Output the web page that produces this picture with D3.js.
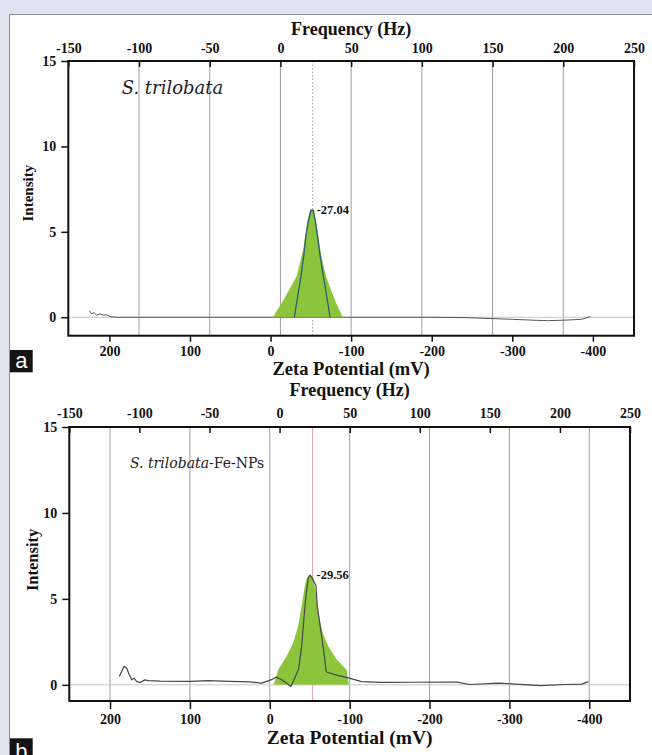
<!DOCTYPE html>
<html>
<head>
<meta charset="utf-8">
<script src="https://cdn.jsdelivr.net/npm/d3@7"></script>
<style>
  html, body { margin: 0; padding: 0; background: #dfe3f0; }
  svg { display: block; }
</style>
</head>
<body>
<svg id="chart" width="652" height="755"></svg>
<script>
// Zeta potential distributions of S. trilobata extract (a) and its Fe-NPs (b).
// Values: [zeta mV, intensity].

const FREQ_TICKS = [-150, -100, -50, 0, 50, 100, 150, 200, 250];
const FREQ_GRID = [-100, -50, 0, 50, 100, 150, 200];
const ZETA_TICKS = [200, 100, 0, -100, -200, -300, -400];
const INTENSITY_TICKS = [0, 5, 10, 15];
const FREQ_DOMAIN = [-150, 250];
const ZETA_DOMAIN = [251, -451];

// panel a
const traceA = [
  [225, 0.38], [222, 0.2], [219, 0.27], [215.8, 0.12], [211.7, 0.2], [207.6, 0.12],
  [203.3, 0.14], [199.2, 0.03], [190, 0], [150, 0], [100, 0], [50, 0], [0, 0],
  [-50, 0], [-100, 0], [-150, 0], [-200, 0], [-240, -0.02], [-270, -0.07],
  [-300, -0.12], [-330, -0.18], [-345, -0.2], [-365, -0.17], [-386, -0.12], [-397, 0.04]
];
const fillA = [
  [-2.7, 0], [-13.9, 0.84], [-23.3, 1.63], [-32.5, 2.42], [-36.6, 3.22], [-40.7, 4.02],
  [-43.2, 4.81], [-45.6, 5.61], [-49.0, 6.3], [-54.0, 6.3], [-56.4, 5.61], [-58.9, 4.81],
  [-61.4, 4.02], [-64.7, 3.22], [-68.8, 2.42], [-74.7, 1.63], [-81.3, 0.84], [-89.6, 0]
];
const peakA = [
  [-29.5, 0], [-33.7, 1.23], [-37.8, 2.42], [-41.2, 3.62], [-44.0, 4.81], [-46.9, 5.61],
  [-50.2, 6.27], [-52.7, 6.27], [-55.6, 5.61], [-58.1, 4.81], [-61.4, 3.62],
  [-65.5, 2.42], [-69.7, 1.23], [-73.8, 0]
];

// panel b
const traceB = [
  [188.4, 0.49], [182.5, 1.08], [179.2, 0.98], [175.9, 0.59], [172.9, 0.29], [170, 0.39],
  [166.6, 0.19], [162.5, 0.14], [156.3, 0.29], [152.1, 0.25], [137.5, 0.22], [100, 0.2],
  [77, 0.24], [50, 0.2], [25, 0.17], [10, 0.1], [-2, 0.3], [-8.3, 0.45], [-15, 0.3],
  [-26.5, -0.1], [-36, 0.9], [-39.9, 2.25], [-42.7, 3.82], [-45.3, 5.19], [-48.1, 6.2],
  [-50, 6.37], [-52, 6.3], [-57.8, 5.78], [-59.4, 4.6], [-63.6, 3.24], [-67.8, 1.86],
  [-70.3, 0.88], [-70.8, 0.75], [-85, 0.55], [-99.4, 0.39], [-115, 0.19], [-140, 0.14],
  [-182.7, 0.15], [-234.7, 0.16], [-250.4, 0.02], [-286.8, 0.1], [-338.7, -0.04],
  [-370, 0.02], [-390.7, 0.04], [-398.7, 0.19]
];
const fillB = [
  [-5, 0], [-10.6, 0.88], [-21.1, 1.66], [-29.4, 2.45], [-35.6, 3.43], [-39.9, 4.6],
  [-44.0, 5.78], [-46.1, 6.18], [-50.2, 6.41], [-54.4, 6.27], [-57.4, 5.39], [-60.6, 4.22],
  [-66.1, 3.04], [-73.2, 2.25], [-83.7, 1.47], [-96.2, 0.88], [-99, 0]
];

const PEAK_LABELS = ['-27.04', '-29.56'];
const PEAK_AT = [-52.3, -53.6];
const PEAK_TOP = [6.3, 6.4];

const GREEN = '#8cc43c';
const SERIF = "'Liberation Serif', 'Times New Roman', serif";

const svg = d3.select('#chart');

// page backdrop: lavender strip, white sheet
svg.append('rect').attr('width', 652).attr('height', 755).attr('fill', '#dfe3f0');
svg.append('rect').attr('x', 9).attr('y', 14).attr('width', 643).attr('height', 741).attr('fill', '#fff');
svg.append('path').attr('d', 'M9.5,755V14.5H652').attr('fill', 'none').attr('stroke', '#8a8f9a');

const panels = [
  {
    key: 'a', left: 68.3, right: 634, top: 61, bottom: 335.7, yMin: -1.08,
    grid: 'freq', trace: traceA, fill: fillA, inner: peakA,
    freqTitleY: 35, freqPad: 8, zTick: 6, zPad: 4, zTitleY: 375, zTitleSize: 18.5,
    yTitleX: 33, yTitleSize: 15, peakLine: { color: '#9a9a9a', dash: '1.5,2' },
    boxY: 350, boxH: 22.3, boxTextY: 367.5
  },
  {
    key: 'b', left: 69.3, right: 630, top: 427, bottom: 701, yMin: -0.94,
    grid: 'zeta', trace: traceB, fill: fillB, inner: null,
    freqTitleY: 396, freqPad: 9, zTick: 8, zPad: 5, zTitleY: 744, zTitleSize: 19.5,
    yTitleX: 37.5, yTitleSize: 16.5, peakLine: { color: '#e2a2ab', dash: null },
    boxY: 738.3, boxH: 20, boxTextY: 759
  }
];

function styleAxis(sel) {
  sel.select('.domain').remove();
  sel.selectAll('line').attr('stroke', '#111').attr('stroke-width', 1.5);
  sel.selectAll('text').attr('fill', '#111')
    .attr('font-family', SERIF).attr('font-weight', 'bold').attr('font-size', 14);
}

panels.forEach((p, i) => {
  const x = d3.scaleLinear().domain(ZETA_DOMAIN).range([p.left, p.right]);
  const xf = d3.scaleLinear().domain(FREQ_DOMAIN).range([p.left, p.right]);
  const y = d3.scaleLinear().domain([p.yMin, 15]).range([p.bottom, p.top]);
  const g = svg.append('g');

  // gridlines: panel a follows frequency ticks, panel b follows zeta ticks
  const gVals = p.grid === 'freq' ? FREQ_GRID : ZETA_TICKS;
  const gScale = p.grid === 'freq' ? xf : x;
  g.append('g').selectAll('line').data(gVals).join('line')
    .attr('x1', (d) => gScale(d)).attr('x2', (d) => gScale(d))
    .attr('y1', p.top).attr('y2', p.bottom)
    .attr('stroke', '#9e9e9e').attr('stroke-width', 1);

  // zero baseline
  g.append('line').attr('x1', p.left).attr('x2', p.right)
    .attr('y1', y(0)).attr('y2', y(0)).attr('stroke', '#c6c6c6').attr('stroke-width', 1);

  // peak marker line
  g.append('line').attr('x1', x(PEAK_AT[i])).attr('x2', x(PEAK_AT[i]))
    .attr('y1', p.top).attr('y2', p.bottom)
    .attr('stroke', p.peakLine.color).attr('stroke-width', 1)
    .attr('stroke-dasharray', p.peakLine.dash);

  const line = d3.line().x((d) => x(d[0])).y((d) => y(d[1]));
  const area = d3.area().x((d) => x(d[0])).y0(y(0)).y1((d) => y(d[1]));

  if (p.inner) {
    g.append('path').datum(p.trace).attr('d', line)
      .attr('fill', 'none').attr('stroke', '#555').attr('stroke-width', 1);
  }
  g.append('path').datum(p.fill).attr('d', area).attr('fill', GREEN);
  if (p.inner) {
    g.append('path').datum(p.inner).attr('d', line)
      .attr('fill', 'none').attr('stroke', '#2d5b78').attr('stroke-width', 1.3);
  } else {
    g.append('path').datum(p.trace).attr('d', line)
      .attr('fill', 'none').attr('stroke', '#474747').attr('stroke-width', 1.2)
      .attr('stroke-linejoin', 'round');
  }

  // peak value label
  g.append('text').attr('x', x(PEAK_AT[i]) + 4).attr('y', y(PEAK_TOP[i]) + 4)
    .attr('font-family', SERIF).attr('font-weight', 'bold').attr('font-size', 12.5)
    .attr('fill', '#111').text(PEAK_LABELS[i]);

  // axes
  g.append('g').attr('transform', `translate(0,${p.top})`)
    .call(d3.axisTop(xf).tickValues(FREQ_TICKS).tickSize(-6).tickPadding(p.freqPad)
      .tickFormat((d) => String(d)))
    .call(styleAxis);
  g.append('g').attr('transform', `translate(0,${p.bottom})`)
    .call(d3.axisBottom(x).tickValues(ZETA_TICKS).tickSize(p.zTick).tickPadding(p.zPad)
      .tickFormat((d) => String(d)))
    .call(styleAxis);
  g.append('g').attr('transform', `translate(${p.left},0)`)
    .call(d3.axisLeft(y).tickValues(INTENSITY_TICKS).tickSize(7).tickPadding(5)
      .tickFormat((d) => String(d)))
    .call(styleAxis);

  // frame
  g.append('rect').attr('x', p.left).attr('y', p.top)
    .attr('width', p.right - p.left).attr('height', p.bottom - p.top)
    .attr('fill', 'none').attr('stroke', '#111').attr('stroke-width', 2);

  // axis titles
  const mid = (p.left + p.right) / 2;
  g.append('text').attr('x', mid).attr('y', p.freqTitleY).attr('text-anchor', 'middle')
    .attr('font-family', SERIF).attr('font-weight', 'bold').attr('font-size', 18)
    .attr('fill', '#111').text('Frequency (Hz)');
  g.append('text').attr('x', mid).attr('y', p.zTitleY).attr('text-anchor', 'middle')
    .attr('font-family', SERIF).attr('font-weight', 'bold').attr('font-size', p.zTitleSize)
    .attr('fill', '#111').text('Zeta Potential (mV)');
  const yc = (y(5) + y(10)) / 2 + 4;
  g.append('text').attr('transform', `translate(${p.yTitleX},${yc}) rotate(-90)`)
    .attr('text-anchor', 'middle')
    .attr('font-family', SERIF).attr('font-weight', 'bold').attr('font-size', p.yTitleSize)
    .attr('fill', '#111').text('Intensity');

  // panel letter
  svg.append('rect').attr('x', 10).attr('y', p.boxY).attr('width', 22.7).attr('height', p.boxH)
    .attr('fill', '#141414');
  svg.append('text').attr('x', 21.3).attr('y', p.boxTextY).attr('text-anchor', 'middle')
    .attr('font-family', "'Liberation Sans', Arial, sans-serif").attr('font-size', 22)
    .attr('fill', '#fff').text(p.key);
});

// sample names
const nameA = svg.append('text').attr('x', 121.7).attr('y', 94)
  .attr('font-family', "'DejaVu Serif', serif").attr('font-size', 18)
  .attr('fill', '#222');
nameA.append('tspan').attr('font-style', 'italic').text('S. trilobata');

const nameB = svg.append('text').attr('x', 130).attr('y', 468)
  .attr('font-family', "'DejaVu Serif', serif").attr('font-size', 14)
  .attr('fill', '#222');
nameB.append('tspan').attr('font-style', 'italic').text('S. trilobata');
nameB.append('tspan').text('-Fe-NPs');
</script>
</body>
</html>
